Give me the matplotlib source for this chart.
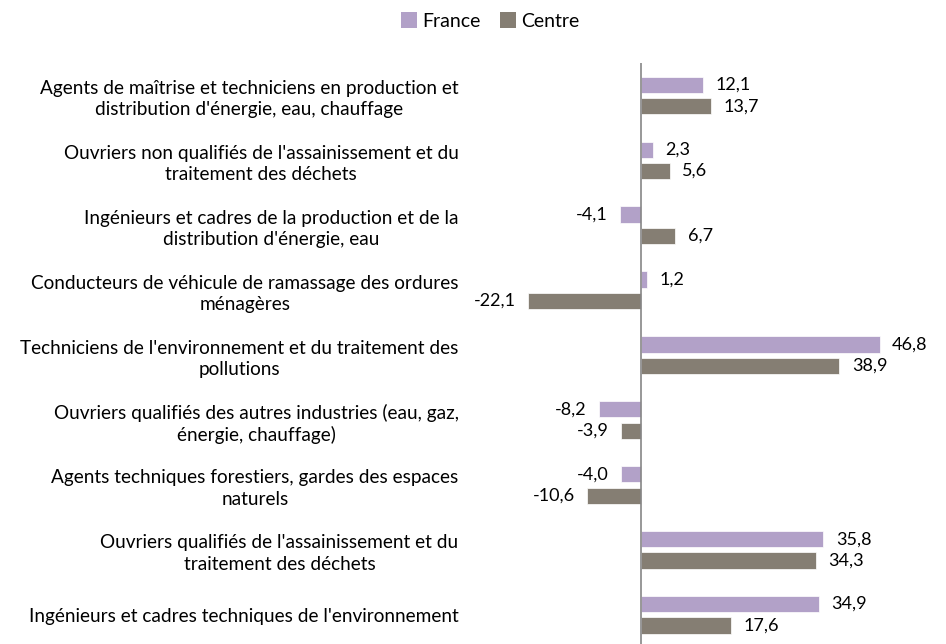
import matplotlib
matplotlib.use("Agg")
import matplotlib.pyplot as plt
from matplotlib.patches import Patch
import numpy as np

plt.rcParams['font.family'] = ['Lato', 'DejaVu Sans']

categories = [
    "Agents de maîtrise et techniciens en production et\ndistribution d'énergie, eau, chauffage",
    "Ouvriers non qualifiés de l'assainissement et du\ntraitement des déchets",
    "Ingénieurs et cadres de la production et de la\ndistribution d'énergie, eau",
    "Conducteurs de véhicule de ramassage des ordures\nménagères",
    "Techniciens de l'environnement et du traitement des\npollutions",
    "Ouvriers qualifiés des autres industries (eau, gaz,\nénergie, chauffage)",
    "Agents techniques forestiers, gardes des espaces\nnaturels",
    "Ouvriers qualifiés de l'assainissement et du\ntraitement des déchets",
    "Ingénieurs et cadres techniques de l'environnement",
]
france = [12.1, 2.3, -4.1, 1.2, 46.8, -8.2, -4.0, 35.8, 34.9]
centre = [13.7, 5.6, 6.7, -22.1, 38.9, -3.9, -10.6, 34.3, 17.6]
series_names = ["France", "Centre"]
colors = ["#B2A1C8", "#857E73"]

W, H = 946, 644
fig = plt.figure(figsize=(W / 100, H / 100), dpi=100)
xmin, xmax = -32, 52
left_px, right_px = 478, 906
top_px = 63
ax = fig.add_axes([left_px / W, 0, (right_px - left_px) / W, (H - top_px) / H])

y = np.arange(len(categories))
bh = 0.25
off = 0.165
for vals, d, c in [(france, -off, colors[0]), (centre, off, colors[1])]:
    bars = ax.barh(y + d, vals, height=bh, color=c, edgecolor='white', linewidth=0.5)
    for b, v in zip(bars, vals):
        txt = f"{v:.1f}".replace('.', ',')
        if v >= 0:
            ax.annotate(txt, (v, b.get_y() + b.get_height() / 2), xytext=(9, 0),
                        textcoords='offset points', ha='left', va='center', fontsize=13, color='black')
        else:
            ax.annotate(txt, (v, b.get_y() + b.get_height() / 2), xytext=(-9, 0),
                        textcoords='offset points', ha='right', va='center', fontsize=13, color='black')

ax.set_xlim(xmin, xmax)
ax.set_ylim(8.45, -0.5)
ax.set_yticks(y)
ax.set_yticklabels(categories, fontsize=13.7, multialignment='center', linespacing=1.32)
ax.tick_params(axis='y', length=0, pad=14)
ax.set_xticks([])
for s in ['top', 'right', 'bottom', 'left']:
    ax.spines[s].set_visible(False)
ax.axvline(0, color='#868686', linewidth=1.2)

handles = [Patch(facecolor=c, edgecolor='none') for c in colors]
fig.legend(handles, series_names, loc='center', bbox_to_anchor=(490 / W, 1 - 21 / H), ncol=2,
           frameon=False, fontsize=14, handlelength=0.85, handleheight=0.85,
           handletextpad=0.25, columnspacing=1.0, borderpad=0)

fig.savefig("out.png", dpi=100)
